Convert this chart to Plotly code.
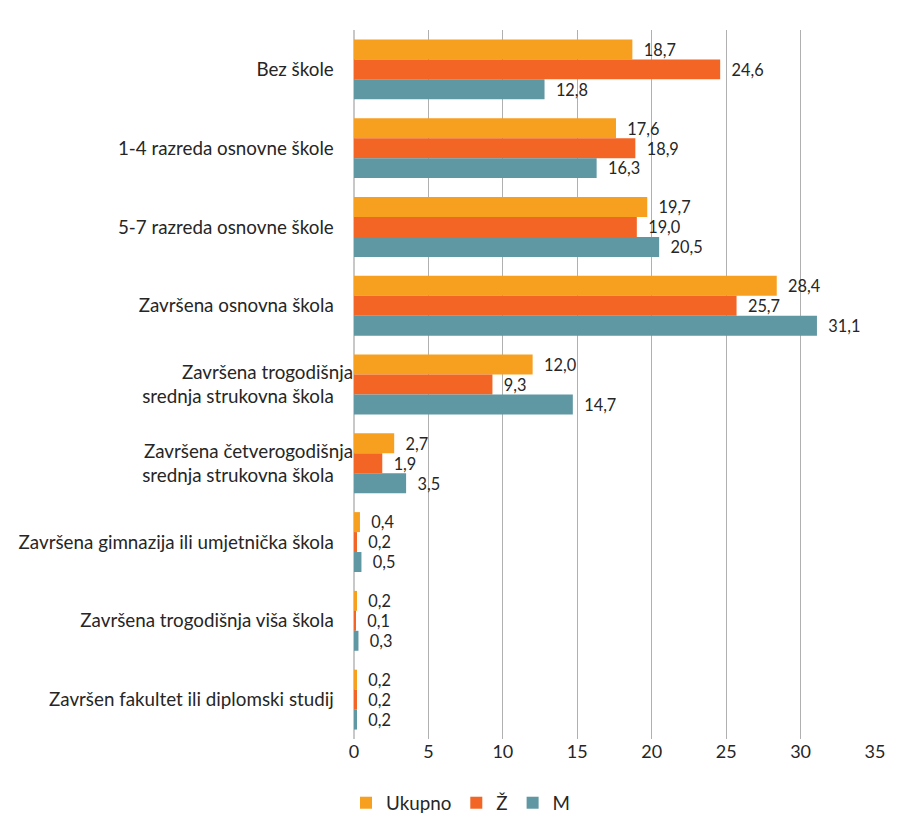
import plotly.graph_objects as go

categories = [
    "Bez škole",
    "1-4 razreda osnovne škole",
    "5-7 razreda osnovne škole",
    "Završena osnovna škola",
    "Završena trogodišnja<br>srednja strukovna škola",
    "Završena četverogodišnja<br>srednja strukovna škola",
    "Završena gimnazija ili umjetnička škola",
    "Završena trogodišnja viša škola",
    "Završen fakultet ili diplomski studij",
]
ukupno = [18.7, 17.6, 19.7, 28.4, 12.0, 2.7, 0.4, 0.2, 0.2]
zene = [24.6, 18.9, 19.0, 25.7, 9.3, 1.9, 0.2, 0.1, 0.2]
muski = [12.8, 16.3, 20.5, 31.1, 14.7, 3.5, 0.5, 0.3, 0.2]
series_names = ["Ukupno", "Ž", "M"]
colors = ["#F79F1F", "#F26524", "#5F97A3"]
x_ticks = [0, 5, 10, 15, 20, 25, 30, 35]

FONT = "Lato, Open Sans, sans-serif"
FS = 18
FS_CAT = 18.8
TXT = "#262626"

def fmt(v):
    return "\u00a0\u00a0" + f"{v:.1f}".replace(".", ",")

fig = go.Figure()
for name, vals, col in zip(series_names, [ukupno, zene, muski], colors):
    fig.add_trace(go.Bar(
        y=categories, x=vals, name=name, orientation="h",
        marker=dict(color=col, line=dict(width=0)),
        text=[fmt(v) for v in vals], textposition="outside",
        textfont=dict(size=FS, color=TXT, family=FONT),
        cliponaxis=False,
    ))

# page offset of 8px (body margin) is compensated
W, H = 895, 825
L, R, T, B = 346, 28, 22, 93
pw, ph = W - L - R, H - T - B

fig.update_layout(
    width=W, height=H,
    margin=dict(l=L, r=R, t=T, b=B),
    barmode="group", bargap=0.24, bargroupgap=0,
    plot_bgcolor="white", paper_bgcolor="white",
    font=dict(family=FONT, size=FS, color=TXT),
    xaxis=dict(range=[0, 35], tickvals=x_ticks, showgrid=True,
               gridcolor="#B0B0B0", gridwidth=1, zeroline=True,
               zerolinecolor="#C8C8C8", showline=False,
               tickfont=dict(size=FS, color=TXT), ticks=""),
    yaxis=dict(autorange="reversed", ticks="", showgrid=False,
               tickfont=dict(size=FS_CAT, color=TXT), ticksuffix="    "),
    legend=dict(orientation="h", x=(453 - L) / pw, xanchor="center",
                y=-(795 - (T + ph)) / ph, yanchor="middle",
                font=dict(size=FS_CAT, color=TXT), traceorder="normal",
                itemwidth=30),
    showlegend=True,
)

fig.write_html("out.html")
